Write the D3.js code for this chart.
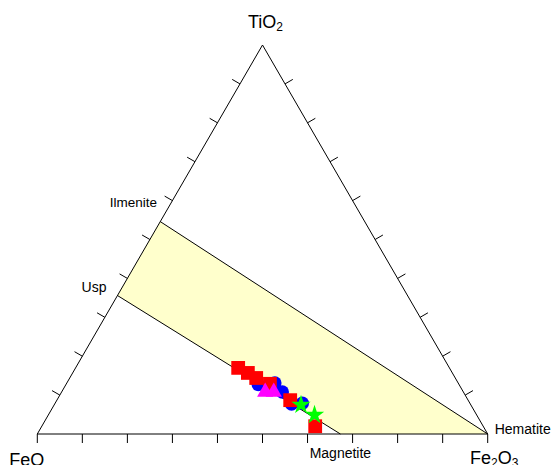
<!DOCTYPE html>
<html>
<head>
<meta charset="utf-8">
<script src="https://cdn.jsdelivr.net/npm/d3@7"></script>
<style>
    body { margin: 0; background: #fff; }
    text { font-family: Arial, "Liberation Sans", sans-serif; fill: #000; }
</style>
</head>
<body>
<div id="ternary"></div>
<script>
// compositions as [FeO, TiO2, Fe2O3] fractions
const redSquares = [
    [0.469, 0.170, 0.361],
    [0.454, 0.157, 0.389],
    [0.442, 0.144, 0.414],
    [0.419, 0.129, 0.452],
    [0.395, 0.087, 0.518],
    [0.373, 0.020, 0.607]
];
const blueCircles = [
    [0.446, 0.127, 0.427],
    [0.407, 0.131, 0.462],
    [0.402, 0.108, 0.490],
    [0.397, 0.077, 0.526],
    [0.372, 0.079, 0.549]
];
const magentaTriangles = [
    [0.440, 0.108, 0.452],
    [0.421, 0.108, 0.471]
];
const greenStars = [
    [0.377, 0.075, 0.548],
    [0.360, 0.049, 0.591]
];
// reference minerals for the Fe-Ti oxide band
const minerals = ["Usp", "Ilmenite", "Hematite", "Magnetite"];
const mineralComp = [
    [0.644, 0.356, 0.000],
    [0.454, 0.546, 0.000],
    [0.000, 0.000, 1.000],
    [0.327, 0.000, 0.673]
];
const tickValues = [0, 0.1, 0.2, 0.3, 0.4, 0.5, 0.6, 0.7, 0.8, 0.9, 1];

const W = 552, H = 465;
const x0 = 37.3, side = 450.4;
const base = 434, tri_h = 389;
const tickLen = 9;

var x = d3.scaleLinear().domain([0, 1]).range([x0, x0 + side]);
var y = d3.scaleLinear().domain([0, 1]).range([base, base - tri_h]);

// ternary -> screen
function px(c) { return x(c[2] + c[1] / 2); }
function py(c) { return y(c[1]); }

var svg = d3.select("#ternary").append("svg")
    .attr("width", W)
    .attr("height", H);

// yellow band Usp-Ilmenite-Hematite-Magnetite
svg.append("path")
    .attr("d", "M" + mineralComp.map(c => px(c) + "," + py(c)).join("L") + "Z")
    .attr("fill", "#ffffcc")
    .attr("stroke", "none");

svg.append("line")
    .attr("x1", px(mineralComp[1])).attr("y1", py(mineralComp[1]))
    .attr("x2", px(mineralComp[2])).attr("y2", py(mineralComp[2]))
    .attr("stroke", "#000");
svg.append("line")
    .attr("x1", px(mineralComp[0])).attr("y1", py(mineralComp[0]))
    .attr("x2", px(mineralComp[3])).attr("y2", py(mineralComp[3]))
    .attr("stroke", "#000");

// triangle frame
var corners = [[1, 0, 0], [0, 1, 0], [0, 0, 1]];
svg.append("path")
    .attr("d", "M" + corners.map(c => px(c) + "," + py(c)).join("L") + "Z")
    .attr("fill", "none")
    .attr("stroke", "#000");

// ticks
var ticks = svg.append("g").attr("stroke", "#000");
// bottom (Fe2O3)
ticks.selectAll(".tb").data(tickValues).enter().append("line")
    .attr("x1", d => px([1 - d, 0, d])).attr("y1", d => py([1 - d, 0, d]))
    .attr("x2", d => px([1 - d, 0, d])).attr("y2", d => py([1 - d, 0, d]) + tickLen);
var inner = tickValues.slice(1, -1);
var c30 = Math.cos(Math.PI / 6), s30 = Math.sin(Math.PI / 6);
// left (TiO2 along FeO-TiO2)
ticks.selectAll(".tl").data(inner).enter().append("line")
    .attr("x1", d => px([1 - d, d, 0])).attr("y1", d => py([1 - d, d, 0]))
    .attr("x2", d => px([1 - d, d, 0]) - tickLen * c30).attr("y2", d => py([1 - d, d, 0]) - tickLen * s30);
// right (TiO2 along Fe2O3-TiO2)
ticks.selectAll(".tr").data(inner).enter().append("line")
    .attr("x1", d => px([0, d, 1 - d])).attr("y1", d => py([0, d, 1 - d]))
    .attr("x2", d => px([0, d, 1 - d]) + tickLen * c30).attr("y2", d => py([0, d, 1 - d]) - tickLen * s30);

// data points
function drawSeries(data, type, size, color) {
    svg.append("g").selectAll("path").data(data).enter().append("path")
        .attr("d", d3.symbol().type(type).size(size))
        .attr("transform", d => "translate(" + px(d) + "," + py(d) + ")")
        .attr("fill", color);
}
drawSeries(blueCircles, d3.symbolCircle, 140, "#0000ff");
drawSeries(redSquares, d3.symbolSquare, 190, "#ff0000");
drawSeries(magentaTriangles, d3.symbolTriangle, 115, "#ff00ff");
drawSeries(greenStars, d3.symbolStar, 115, "#00ff00");

// vertex labels
var t1 = svg.append("text").attr("x", 248).attr("y", 27.7).style("font-size", "18px");
t1.append("tspan").text("TiO");
t1.append("tspan").attr("dy", 3).style("font-size", "12px").text("2");

svg.append("text").attr("x", 9.3).attr("y", 466).style("font-size", "18px").text("FeO");

var t3 = svg.append("text").attr("x", 470).attr("y", 463.6).style("font-size", "18px");
t3.append("tspan").text("Fe");
t3.append("tspan").attr("dy", 3).style("font-size", "12px").text("2");
t3.append("tspan").attr("dy", -3).text("O");
t3.append("tspan").attr("dy", 3).style("font-size", "12px").text("3");

// mineral labels
svg.append("text").attr("x", px(mineralComp[0]) - 11).attr("y", 291.5)
    .attr("text-anchor", "end").style("font-size", "14px").text(minerals[0]);
svg.append("text").attr("x", 157).attr("y", 207)
    .attr("text-anchor", "end").style("font-size", "13.5px").text(minerals[1]);
svg.append("text").attr("x", px(mineralComp[2]) + 7).attr("y", 433.5)
    .style("font-size", "14px").text(minerals[2]);
svg.append("text").attr("x", px(mineralComp[3])).attr("y", 457.7)
    .attr("text-anchor", "middle").style("font-size", "14px").text(minerals[3]);
</script>
</body>
</html>
